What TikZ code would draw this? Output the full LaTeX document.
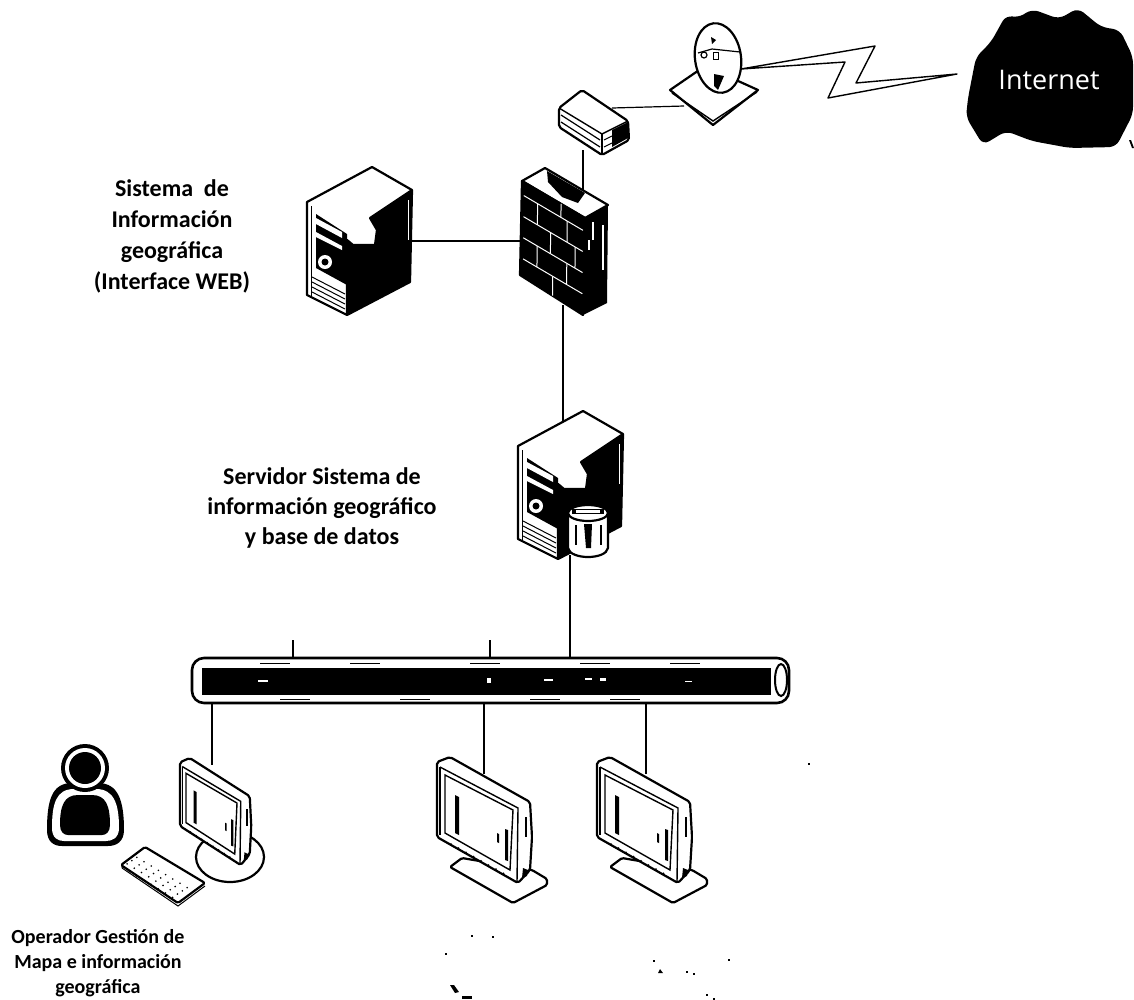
\documentclass[tikz,border=0pt]{standalone}
\usepackage{fontspec}
\setmainfont{Carlito}
\newfontfamily\cloudfont{Open Sans}
\tikzset{
  x=1pt,y=-1pt,
  conn/.style={draw=black,line width=1.2pt},
  heavy/.style={draw=black,line width=2.2pt,line join=round},
  thin line/.style={draw=black,line width=1pt},
  label text/.style={font=\bfseries\fontsize{24}{31}\selectfont,align=center,text=black,inner sep=0pt},
  speck/.style={fill=black,draw=none},
  pics/server/.style={code={
    \fill[black] (412,190)--(410,282)--(347,315)--(347,240)--(353,245)--(375,245)--(377,230)--(370,218)--cycle;
    \draw[heavy,fill=white] (307,202)--(372,167)--(412,190)--(370,218)--(377,230)--(375,245)--(353,245)--(347,240)--(347,315)--(307,295)--cycle;
    \draw[heavy] (412,190)--(410,282)--(347,315);
    \fill[black] (316,214)--(347,234)--(347,285)--(316,268)--cycle;
    \fill[white] (316,218)--(342,232)--(342,238)--(316,224)--cycle;
    \fill[white] (316,232)--(342,246)--(342,250)--(316,237)--cycle;
    \fill[white] (325,262) circle[radius=7];
    \fill[black] (325,262) circle[radius=3.5];
    \foreach \k in {0,1,2,3}{\draw[thin line] (312,277+5*\k)--(345,294+5*\k);}
    \draw[thin line] (311,206)--(311,296);
    \fill[white] (408,200) rectangle (409,240);
  }},
  pics/monitor/.style={code={
    \draw[heavy,fill=white,rounded corners=2pt] (0,5)--(13,0)--(93,45)--(95,80)--(93,113)--(81,126)--(0,80)--cycle;
    \draw[line width=1.4pt] (3,10)--(81,51)--(80,125);
    \draw[line width=1.4pt] (8,18)--(76,53)--(73,113)--(8,76)--cycle;
    \draw[line width=1.4pt] (3,10)--(3,78);
    \fill[black] (18,38)--(22,40)--(22,78)--(18,76)--cycle;
    \fill[black] (68,72)--(71,73)--(71,104)--(68,103)--cycle;
    \fill[black] (60,76)--(62,77)--(62,86)--(60,85)--cycle;
    \foreach \k in {0,1,...,7}{\fill[black] (14+7.5*\k,87+4.2*\k) circle[radius=1];}
    \fill[black] (88,60) rectangle (90,80);
    \fill[black] (86,111)--(91,113)--(90,119)--(85,121)--cycle;
  }},
  pics/stand/.style={code={
    \draw[heavy,fill=white,rounded corners=1.5pt] (13,110)--(25,101)--(95,113)--(110,122)--(110,128)--(76,146)--cycle;
  }}
}
\begin{document}
\begin{tikzpicture}
\useasboundingbox (0,0) rectangle (1134,999);
% anchor points of the connectors
\coordinate (dishL) at (684,106);
\coordinate (routerR) at (612,108);
\coordinate (routerB) at (583,150);
\coordinate (fwT) at (583,195);
\coordinate (fwL) at (520,241);
\coordinate (srvR) at (412,241);
\coordinate (fwB) at (563,305);
\coordinate (dbsT) at (563,422);
\coordinate (dbB) at (570,555);
\coordinate (busA) at (570,659);
\coordinate (stubA) at (293,640);
\coordinate (stubAb) at (293,659);
\coordinate (stubB) at (490,640);
\coordinate (stubBb) at (490,659);
\coordinate (busC) at (212,702);
\coordinate (monA) at (212,765);
\coordinate (busD) at (484,702);
\coordinate (monB) at (484,774);
\coordinate (busE) at (646,702);
\coordinate (monC) at (646,774);

\draw[conn] (dishL)--(routerR);
\draw[conn] (routerB)--(fwT);
\draw[conn,line width=1.6pt] (srvR)--(fwL);
\draw[conn] (fwB)--(dbsT);
\draw[conn] (dbB)--(busA);
\draw[conn] (stubA)--(stubAb);
\draw[conn] (stubB)--(stubBb);
\draw[conn] (busC)--(monA);
\draw[conn] (busD)--(monB);
\draw[conn] (busE)--(monC);

% internet cloud
\fill[black,rounded corners=7pt] (1006,15)--(1018,18)--(1032,9)--(1059,19)--(1078,8)--(1101,27)--(1120,30)--(1133,57)--(1133,114)--(1116,147)--(1070,148)--(1032,141)--(1006,131)--(983,145)--(966,117)--(968,98)--(976,57)--(991,42)--cycle;
\node[text=white,font=\cloudfont\fontsize{27}{30}\selectfont,inner sep=0pt] (internet) at (1049,80) {Internet};
\fill[black] (1129,140)--(1131,140)--(1134,148)--(1132,148)--cycle;

% wireless link
\draw[heavy,line width=1.4pt,fill=white] (741,69)--(875,46)--(856,83)--(957,74)--(828,98)--(845,62)--cycle;

% dish
\draw[heavy,fill=white] (670,90)--(705,66)--(758,90)--(713,125)--cycle;
\draw[line width=1.4pt] (672,93)--(713,121)--(757,92);
\draw[heavy,fill=white,rotate around={8:(718,58)}] (718,58) ellipse[x radius=23,y radius=35];
\draw[line width=1.2pt] (698,53)--(712,49)--(740,52);
\draw[line width=1.2pt] (704,55) circle[radius=3];
\fill[black] (713,52) rectangle (719,60);
\fill[white] (714,53) rectangle (718,59);
\fill[black] (714,74)--(724,76)--(718,90)--(714,86)--cycle;
\fill[black] (711,37)--(716,40)--(712,44)--cycle;

% router
\draw[heavy,fill=white,rounded corners=2pt] (582,90)--(628,121)--(629,140)--(602,155)--(559,127)--(559,108)--cycle;
\draw[line width=1.4pt] (559,108)--(602,134)--(628,121);
\draw[line width=1.4pt] (602,134)--(602,155);
\fill[black] (612,130)--(628,122)--(628,138)--(612,147)--cycle;
\draw[line width=1pt] (604,140)--(612,136) (604,147)--(612,143);
\draw[line width=1.2pt] (561,115)--(600,140) (561,122)--(600,147);

% firewall
\begin{scope}
\fill[black] (585,218)--(608,205)--(607,303)--(583,315)--cycle;
\draw[heavy,fill=white] (522,181)--(545,168)--(608,205)--(585,218)--cycle;
\fill[black] (547,171)--(585,193)--(578,203)--(562,197)--(548,182)--cycle;
\draw[heavy,fill=black] (522,181)--(585,218)--(583,315)--(520,275)--cycle;
\fill[white] (602,225) rectangle (604,270);
\fill[white] (592,222) rectangle (594,240);
\fill[white] (588,240) rectangle (590,250);
\end{scope}
\begin{scope}[shift={(522,181)},x={(63pt,-37pt)},y={(-1pt,-96pt)}]
\foreach \v in {0.14,0.36,0.58,0.80}{\draw[white,line width=1pt] (0.03,\v)--(0.97,\v);}
\foreach \u/\a/\b in {0.62/0/0.14, 0.25/0.14/0.36, 0.72/0.14/0.36, 0.46/0.36/0.58, 0.85/0.36/0.58, 0.25/0.58/0.80, 0.72/0.58/0.80, 0.5/0.80/1}{\draw[white,line width=1pt] (\u,\a)--(\u,\b);}
\end{scope}

% servers
\pic {server};
\pic at (211,244) {server};
\draw[line width=2.2pt,fill=white] (568,513)--(568,548) .. controls (570,560) and (606,560) .. (608,548)--(608,513);
\draw[line width=2.2pt,fill=white] (588,513) ellipse[x radius=20,y radius=8];
\fill[black] (572,509)--(604,509)--(604,514)--(572,514)--cycle;
\fill[white] (576,510) rectangle (600,513);
\fill[black] (584,524)--(592,524)--(591,548)--(586,548)--cycle;
\fill[black] (575,525) rectangle (577,545);
\fill[black] (600,525) rectangle (602,545);

% bus
\draw[line width=2.6pt,fill=white,rounded corners=12pt] (192,658) rectangle (789,703);
\fill[black] (202,668) rectangle (771,695);
\draw[line width=2pt,fill=white] (781,680) ellipse[x radius=6,y radius=16];
\foreach \a/\b/\c/\d in {258/680/268/682, 487/678/491/683, 544/679/553/681, 585/678/592/680, 600/678/606/681, 685/681/692/682}{\fill[white] (\a,\b) rectangle (\c,\d);}
\foreach \a/\b in {260/663, 350/663, 470/663, 580/663, 670/663, 280/699, 400/699, 530/699, 610/699}{\draw[black,line width=1pt] (\a,\b)--(\a+30,\b);}

% operator
\fill[black] (47,830) .. controls (47,800) and (52,783) .. (72,783) -- (98,783) .. controls (118,783) and (124,800) .. (124,830) .. controls (124,842) and (116,846) .. (108,846) -- (62,846) .. controls (54,846) and (47,842) .. (47,830) -- cycle;
\fill[white] (52,828) .. controls (52,804) and (56,789) .. (74,789) -- (96,789) .. controls (114,789) and (119,804) .. (119,828) .. controls (119,838) and (112,841) .. (106,841) -- (64,841) .. controls (58,841) and (52,838) .. (52,828) -- cycle;
\fill[black] (60,825) .. controls (60,806) and (64,795) .. (78,795) -- (92,795) .. controls (106,795) and (110,806) .. (110,825) .. controls (110,832) and (106,835) .. (102,835) -- (68,835) .. controls (64,835) and (60,832) .. (60,825) -- cycle;
\fill[black] (85,768) circle[radius=24];
\fill[white] (85,768) circle[radius=20];
\fill[black] (85,768) circle[radius=16];

% workstation
\draw[heavy,fill=white] (230,857) ellipse[x radius=34,y radius=25];
\pic[xscale=.75,yscale=.85] at (180,758) {monitor};
\draw[heavy,fill=white,rounded corners=1.5pt] (145,847)--(205,883)--(178,903)--(121,865)--cycle;
\draw[line width=1pt] (122,868)--(178,906)--(205,886);
\begin{scope}[shift={(135,854)},x={(60pt,-36pt)},y={(-18pt,-12pt)}]
\foreach \i in {0,...,7}{\foreach \j in {0,...,3}{\fill[black] (0.06+0.12*\i,0.1+0.27*\j) circle[radius=0.9pt];}}
\end{scope}

% monitors
\pic at (437,757) {stand};
\pic at (437,757) {monitor};
\pic at (597,757) {stand};
\pic at (597,757) {monitor};

% labels
\node[label text] (lblWeb) at (172,236) {Sistema\ \ de\\Información\\geográfica\\(Interface WEB)};
\node[label text,font=\bfseries\fontsize{24}{30}\selectfont] (lblSrv) at (322,508) {Servidor Sistema de\\información geográfico\\y base de datos};
\node[label text,font=\bfseries\fontsize{20}{25}\selectfont] (lblOp) at (98,963) {Operador Gestión de\\Mapa e información\\geográfica};

% scan specks
\foreach \a/\b in {471/935,492/936,445/953,653/960,686/971,693/973,728/959,706/994,713/998,808/763}{\fill[speck] (\a,\b) rectangle (\a+2,\b+1.5);}
\fill[speck] (660,969)--(663,973)--(658,973)--cycle;
\fill[speck] (450,985)--(454,985)--(459,992)--(455,993)--cycle;
\fill[speck] (462,996) rectangle (472,999);
\end{tikzpicture}
\end{document}
